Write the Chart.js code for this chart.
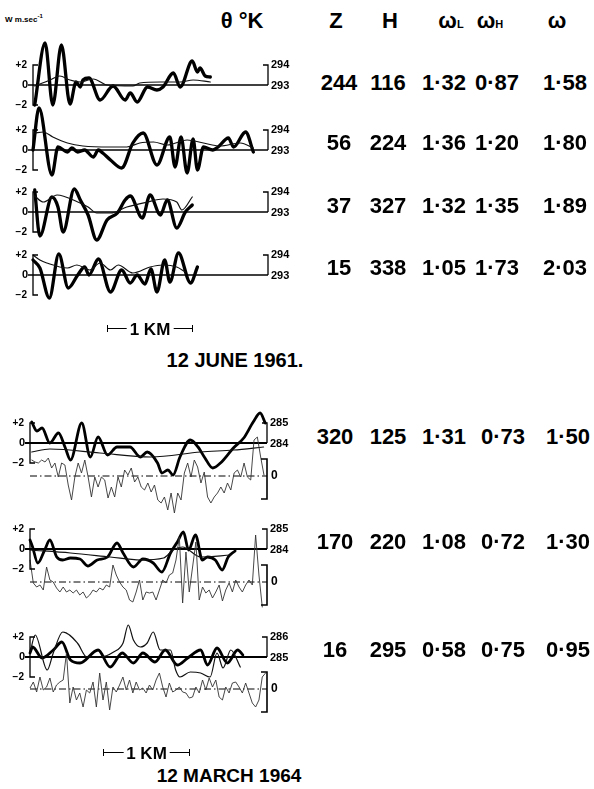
<!DOCTYPE html>
<html>
<head>
<meta charset="utf-8">
<script src="https://cdn.jsdelivr.net/npm/chart.js@4.4.1/dist/chart.umd.min.js"></script>
<style>
  body { margin: 0; background: #fff; width: 594px; height: 789px; position: relative; overflow: hidden;
         font-family: "Liberation Sans", Arial, sans-serif; color: #000; }
  canvas { position: absolute; left: 0; }
  .t { position: absolute; transform: translate(-50%, -50%); white-space: nowrap; font-weight: bold;
       font-size: 22px; line-height: 1; }
  .t small { font-size: 11px; }
  .unit { position: absolute; left: 5px; top: 13px; font-size: 8px; font-weight: bold; white-space: nowrap; }
  .bar { position: absolute; height: 0; border-top: 1px solid #000; }
  .bar::before, .bar::after { content: ""; position: absolute; top: -4px; height: 7px; border-left: 1px solid #000; }
  .bar::before { left: 0; }
  .bar::after { right: 0; }
  .bar span { position: absolute; left: 50%; top: 0; transform: translate(-50%, -50%); background: #fff;
              padding: 0 3px; font-weight: bold; font-size: 17px; line-height: 1; white-space: nowrap; }
</style>
</head>
<body>
<script>
// ---- 12 June 1961: vertical velocity w (m/s) and potential temperature (K) against distance (km)
const w244 = [[0.02,-2.0],[0.14,4.2],[0.23,-2.0],[0.33,4.0],[0.43,-1.9],[0.50,0.3],[0.55,-0.2],[0.58,0.5],[0.65,0.7],[0.78,-1.5],[0.93,-0.1],[1.07,-1.5],[1.13,-0.8],[1.21,-1.7],[1.33,-0.2],[1.44,-0.5],[1.51,-0.2],[1.63,1.2],[1.71,-0.2],[1.85,2.4],[1.91,1.3],[1.94,1.7],[2.00,0.9],[2.06,0.8]];
const theta244 = [[0.02,292.95],[0.20,293.25],[0.31,293.45],[0.43,293.25],[0.55,293.15],[0.70,293.3],[0.86,293.0],[1.16,292.95],[1.24,293.1],[1.48,293.15],[1.71,293.15],[1.86,293.25],[2.06,293.15]];

const w56 = [[0.0,0.0],[0.07,4.2],[0.22,-2.5],[0.29,0.3],[0.40,-0.2],[0.45,0.2],[0.52,-0.2],[0.60,0.0],[0.70,-0.7],[0.76,0.0],[0.81,-0.3],[0.90,-1.0],[1.03,-1.8],[1.16,0.7],[1.28,1.7],[1.44,-1.5],[1.59,1.3],[1.65,-1.7],[1.72,1.3],[1.79,-2.3],[1.86,1.1],[1.91,-2.0],[1.98,0.3],[2.09,0.0],[2.15,0.3],[2.27,1.2],[2.33,0.3],[2.47,1.8],[2.56,-0.2]];
const theta56 = [[0.02,293.85],[0.12,293.9],[0.23,293.65],[0.40,293.35],[0.58,293.2],[0.90,293.15],[1.09,293.15],[1.24,293.35],[1.40,293.4],[1.56,293.25],[1.79,293.5],[1.98,293.35],[2.17,293.2],[2.41,293.35],[2.56,293.1]];

const w37 = [[0.02,2.2],[0.08,-2.4],[0.22,1.5],[0.29,0.5],[0.35,-2.0],[0.48,2.3],[0.55,1.2],[0.64,-0.3],[0.74,-2.8],[0.86,-0.8],[0.98,-0.1],[1.07,1.2],[1.13,1.6],[1.27,-0.6],[1.36,1.7],[1.48,-0.3],[1.56,1.2],[1.67,-1.6],[1.77,0.0],[1.85,0.7]];
const theta37 = [[0.02,293.8],[0.12,293.5],[0.28,293.85],[0.52,293.5],[0.64,293.25],[0.74,292.95],[0.90,292.95],[1.09,293.25],[1.33,293.5],[1.51,293.65],[1.67,293.5],[1.73,293.1],[1.85,293.75]];

const w15 = [[0.00,1.5],[0.08,0.7],[0.19,-2.3],[0.30,2.1],[0.41,-1.3],[0.52,0.0],[0.60,0.8],[0.65,0.0],[0.76,1.6],[0.90,-1.7],[1.03,0.5],[1.13,-0.8],[1.21,0.0],[1.30,-0.9],[1.37,0.6],[1.44,-1.7],[1.53,1.5],[1.59,-0.7],[1.69,2.2],[1.83,-0.8],[1.91,0.8]];
const theta15 = [[0.00,294.0],[0.08,293.75],[0.16,293.6],[0.40,293.35],[0.51,293.5],[0.66,293.25],[0.78,293.6],[0.90,293.25],[0.99,293.5],[1.16,293.1],[1.36,293.4],[1.51,293.5],[1.67,293.4],[1.77,293.15]];

// ---- 12 March 1964: w, theta and the fine-scale trace (sampled every FINE_STEP km)
const FINE_STEP = 0.0385;

const w320 = [[0.02,2.1],[0.08,1.2],[0.14,1.5],[0.23,0.0],[0.33,1.0],[0.41,-0.5],[0.47,-1.7],[0.60,2.0],[0.70,-1.4],[0.79,0.6],[0.90,-1.2],[1.01,-0.4],[1.16,-0.4],[1.28,-1.4],[1.36,-0.9],[1.48,-2.0],[1.53,-3.0],[1.60,-2.7],[1.66,-3.2],[1.74,-1.4],[1.86,0.3],[1.95,-0.4],[2.03,-1.5],[2.12,-2.5],[2.21,-2.0],[2.36,-0.5],[2.48,0.5],[2.59,2.1],[2.67,3.0],[2.73,2.0]];
const theta320 = [[0.02,283.55],[0.23,283.7],[0.81,283.5],[1.40,283.3],[1.98,283.55],[2.36,283.65],[2.71,283.8]];
const q320 = [1.6,1.4,1.3,1.6,1.4,1.8,0.8,1.3,-0.1,1.3,
  1.1,-0.9,-2.4,-0.1,1.3,0.3,1.6,-0.1,-2.1,-0.1,
  -1.1,-0.1,-0.4,-2.2,-1.1,-2.1,-0.1,-1.1,0.6,0.1,
  0.8,-0.6,-0.1,-1.1,-1.4,-0.7,-1.6,-0.9,-2.4,-2.7,
  -2.1,-3.4,-1.7,-3.7,-1.7,-2.4,0.3,1.3,-0.1,1.6,
  0.9,-0.7,0.4,-2.1,-2.7,-2.1,-1.7,-1.1,-1.7,-0.7,
  -1.4,0.3,0.6,-0.1,1.3,-0.1,-0.4,3.6,3.9,1.9,0.1];

const w170 = [[0.0,0.9],[0.03,0.2],[0.09,-1.4],[0.17,-0.1],[0.23,0.9],[0.31,-0.8],[0.38,-1.1],[0.47,-0.9],[0.58,-1.0],[0.67,-1.7],[0.78,-1.1],[0.90,-0.8],[1.01,0.6],[1.08,-0.4],[1.20,-1.8],[1.31,-1.0],[1.43,-1.4],[1.53,-2.3],[1.63,-0.4],[1.71,0.7],[1.78,1.7],[1.84,-0.1],[1.92,1.4],[2.00,-1.1],[2.06,-0.8],[2.15,-1.1],[2.23,-2.1],[2.30,-0.8],[2.38,-0.2]];
const theta170 = [[0.0,283.95],[0.47,283.8],[0.93,283.6],[1.28,283.45],[1.55,283.55],[1.66,283.95],[1.77,284.1],[1.98,283.6],[2.33,283.7]];
const q170 = [2.2,-0.1,-0.5,-0.3,-0.8,1.5,0.2,0.0,-0.6,-1.0,
  -0.5,-1.0,-0.8,-1.1,-0.8,-1.3,-1.0,-1.6,-1.3,-0.8,
  -1.0,-0.6,-0.8,-0.3,-0.5,1.7,0.7,0.0,-0.5,-0.8,
  -1.8,-2.0,-1.0,0.2,-1.8,-1.0,-1.1,-1.0,-1.8,-0.8,
  0.2,-0.1,0.7,0.9,2.2,4.5,-2.1,3.0,-1.0,1.5,
  4.0,-1.8,-0.5,-1.1,-0.8,-1.6,-1.0,-0.3,-1.9,-0.8,
  -0.1,-1.0,0.2,-0.5,-1.0,-0.3,0.2,-0.3,4.7,0.7,-2.5];

const w16 = [[0.0,0.4],[0.03,1.0],[0.14,-0.1],[0.27,0.7],[0.37,1.5],[0.47,-0.3],[0.58,-0.6],[0.79,0.7],[0.93,-1.0],[1.07,0.4],[1.20,-0.6],[1.31,0.4],[1.45,-0.5],[1.57,0.7],[1.71,-0.8],[1.83,-0.1],[1.98,0.7],[2.06,-0.8],[2.17,0.9],[2.29,-0.6],[2.41,0.7],[2.47,0.2]];
const theta16 = [[0.0,285.2],[0.06,286.1],[0.20,284.35],[0.27,285.2],[0.38,286.25],[0.55,285.7],[0.66,285.0],[0.81,285.0],[0.97,285.25],[1.08,285.7],[1.14,286.6],[1.20,285.85],[1.28,285.5],[1.36,285.7],[1.43,286.25],[1.51,285.35],[1.63,285.35],[1.69,284.35],[1.74,284.0],[1.86,284.25],[1.98,284.2],[2.09,284.0],[2.17,285.2],[2.24,284.45],[2.33,285.35],[2.44,284.5]];
const q16 = [0.1,0.7,-0.3,1.2,-0.1,0.2,1.1,-0.3,0.4,0.7,
  0.9,3.6,-1.4,0.2,-1.1,-0.4,-1.8,-0.1,-0.4,0.7,
  -1.8,1.6,-1.1,0.7,-2.1,0.2,-0.3,0.4,1.2,-0.1,
  0.9,-0.4,0.7,-0.1,0.1,-0.4,0.4,-0.1,0.9,1.6,
  0.2,-0.8,0.6,-0.3,-0.1,0.2,-0.3,-0.4,-0.9,-0.8,
  0.2,-0.4,0.9,-0.1,1.1,0.2,0.9,-0.8,-1.1,0.2,
  -0.4,0.6,0.7,0.2,-0.4,0.6,-0.4,-1.4,-1.8,-1.1,1.2,1.6];

// ---- table values
const juneZ = [244, 56, 37, 15];
const juneH = [116, 224, 327, 338];
const juneWL = [1.32, 1.36, 1.32, 1.05];
const juneWH = [0.87, 1.20, 1.35, 1.73];
const juneW = [1.58, 1.80, 1.89, 2.03];
const marchZ = [320, 170, 16];
const marchH = [125, 220, 295];
const marchWL = [1.31, 1.08, 0.58];
const marchWH = [0.73, 0.72, 0.75];
const marchW = [1.50, 1.30, 0.95];

// ---- layout
const PX_PER_UNIT = 10;
const june = { left: 33, right: 32, wMin: -4, wMax: 5, xMax: 2.73, bold: 3.3, zeroW: 1.4 };
const march = { left: 30, right: 33, wMin: -8, wMax: 5, xMax: 2.75, bold: 2.8, zeroW: 1.8 };

const panels = [
  { g: june, zero: 85, theta0: 293, w: w244, theta: theta244 },
  { g: june, zero: 150, theta0: 293, w: w56, theta: theta56 },
  { g: june, zero: 212, theta0: 293, w: w37, theta: theta37 },
  { g: june, zero: 275, theta0: 293, w: w15, theta: theta15 },
  { g: march, zero: 443, theta0: 284, w: w320, theta: theta320, fine: q320, fineStart: 0.02, base: 3.3 },
  { g: march, zero: 549, theta0: 284, w: w170, theta: theta170, fine: q170, fineStart: 0, base: 3.3 },
  { g: march, zero: 657, theta0: 285, w: w16, theta: theta16, fine: q16, fineStart: 0, base: 3.2 },
];

function makeFrame(p) {
  return {
    id: 'frame',
    beforeDatasetsDraw(chart) {
      const { ctx, chartArea: a, scales } = chart;
      const y0 = scales.w.getPixelForValue(0);
      ctx.save();
      ctx.strokeStyle = '#000';
      ctx.lineWidth = p.g.zeroW;
      ctx.beginPath();
      ctx.moveTo(a.left - 5, y0);
      ctx.lineTo(a.right, y0);
      ctx.stroke();
      if (p.fine) {
        const yb = scales.f.getPixelForValue(0);
        ctx.lineWidth = 1;
        ctx.setLineDash([7, 3, 1.5, 3]);
        ctx.beginPath();
        ctx.moveTo(a.left, yb);
        ctx.lineTo(a.right, yb);
        ctx.stroke();
        ctx.setLineDash([]);
      }
      ctx.restore();
    },
    afterDraw(chart) {
      const { ctx, chartArea: a, scales } = chart;
      const w = scales.w, t = scales.t;
      ctx.save();
      ctx.strokeStyle = '#000';
      ctx.fillStyle = '#000';
      ctx.lineWidth = 1.3;
      // left bracket, -2 .. +2
      const yp = w.getPixelForValue(2), ym = w.getPixelForValue(-2), y0 = w.getPixelForValue(0);
      ctx.beginPath();
      ctx.moveTo(a.left + 5, yp); ctx.lineTo(a.left, yp); ctx.lineTo(a.left, ym); ctx.lineTo(a.left + 5, ym);
      ctx.stroke();
      // right bracket, theta0 .. theta0+1
      const yt1 = t.getPixelForValue(p.theta0 + 1), yt0 = t.getPixelForValue(p.theta0);
      ctx.beginPath();
      ctx.moveTo(a.right - 5, yt1); ctx.lineTo(a.right, yt1); ctx.lineTo(a.right, yt0);
      ctx.stroke();
      ctx.font = 'bold 10px "Liberation Sans", Arial, sans-serif';
      ctx.textBaseline = 'middle';
      ctx.textAlign = 'right';
      ctx.fillText('+2', a.left - 6, yp);
      ctx.fillText('\u22122', a.left - 6, ym);
      ctx.font = 'bold 11px "Liberation Sans", Arial, sans-serif';
      ctx.fillText('0', a.left - 5, y0);
      ctx.textAlign = 'left';
      ctx.fillText(String(p.theta0 + 1), a.right + 3, yt1);
      ctx.fillText(String(p.theta0), a.right + 3, yt0 + 1);
      if (p.fine) {
        const f = scales.f;
        const yb = f.getPixelForValue(0), yu = f.getPixelForValue(1.7), yd = f.getPixelForValue(-2.3);
        ctx.lineWidth = 1.6;
        ctx.beginPath();
        ctx.moveTo(a.right - 6, yu); ctx.lineTo(a.right, yu); ctx.lineTo(a.right, yd); ctx.lineTo(a.right - 6, yd);
        ctx.stroke();
        ctx.font = 'bold 12px "Liberation Sans", Arial, sans-serif';
        ctx.fillText('0', a.right + 4, yb);
      }
      ctx.restore();
    }
  };
}

panels.forEach(p => {
  const g = p.g;
  const cv = document.createElement('canvas');
  cv.width = 300;
  cv.height = (g.wMax - g.wMin) * PX_PER_UNIT;
  cv.style.top = (p.zero - g.wMax * PX_PER_UNIT) + 'px';
  document.body.appendChild(cv);

  const datasets = [
    {
      data: p.theta.map(([x, y]) => ({ x, y })), yAxisID: 't',
      borderColor: '#111', borderWidth: 1.2, cubicInterpolationMode: 'monotone'
    },
    {
      data: p.w.map(([x, y]) => ({ x, y })), yAxisID: 'w',
      borderColor: '#000', borderWidth: g.bold, cubicInterpolationMode: 'monotone'
    }
  ];
  if (p.fine) {
    datasets.unshift({
      data: p.fine.map((v, i) => ({ x: p.fineStart + i * FINE_STEP, y: v })), yAxisID: 'f',
      borderColor: '#333', borderWidth: 0.9, tension: 0
    });
  }
  datasets.forEach(d => { d.pointRadius = 0; d.fill = false; d.clip = false; d.borderJoinStyle = 'round'; d.borderCapStyle = 'round'; });

  const scales = {
    x: { type: 'linear', min: 0, max: g.xMax, display: false },
    w: { type: 'linear', min: g.wMin, max: g.wMax, display: false },
    t: { type: 'linear', min: p.theta0 + g.wMin / 2, max: p.theta0 + g.wMax / 2, display: false }
  };
  if (p.fine) scales.f = { type: 'linear', min: g.wMin + p.base, max: g.wMax + p.base, display: false };

  new Chart(cv, {
    type: 'line',
    data: { datasets },
    options: {
      responsive: false, animation: false, events: [],
      layout: { padding: { left: g.left, right: g.right, top: 0, bottom: 0 } },
      plugins: { legend: { display: false }, tooltip: { enabled: false } },
      scales
    },
    plugins: [makeFrame(p)]
  });
});

// ---- text
function put(html, x, y, style) {
  const d = document.createElement('div');
  d.className = 't';
  d.innerHTML = html;
  d.style.left = x + 'px';
  d.style.top = y + 'px';
  if (style) d.style.cssText += style;
  document.body.appendChild(d);
}
const fmt = v => v.toFixed(2).replace('.', '\u00b7');

const unit = document.createElement('div');
unit.className = 'unit';
unit.innerHTML = 'W m.sec<sup style="font-size:6px">-1</sup>';
document.body.appendChild(unit);

put('\u03b8 \u00b0K', 242, 21);
put('Z', 336, 21);
put('H', 390, 21);
put('\u03c9<small>L</small>', 451, 21);
put('\u03c9<small>H</small>', 490, 21);
put('\u03c9', 557, 21);

const juneRows = [83, 143, 206, 268];
juneRows.forEach((y, i) => {
  put(juneZ[i], 339, y);
  put(juneH[i], 388, y);
  put(fmt(juneWL[i]), 444, y);
  put(fmt(juneWH[i]), 497, y);
  put(fmt(juneW[i]), 565, y);
});
const marchRows = [437, 542, 650];
marchRows.forEach((y, i) => {
  put(marchZ[i], 335, y);
  put(marchH[i], 388, y);
  put(fmt(marchWL[i]), 444, y);
  put(fmt(marchWH[i]), 503, y);
  put(fmt(marchW[i]), 568, y);
});

put('12 JUNE 1961.', 235, 360, 'font-size:20px');
put('12 MARCH 1964', 229, 775, 'font-size:19px');

function scaleBar(x, y, width) {
  const b = document.createElement('div');
  b.className = 'bar';
  b.style.left = x + 'px';
  b.style.top = y + 'px';
  b.style.width = width + 'px';
  b.innerHTML = '<span>1 KM</span>';
  document.body.appendChild(b);
}
scaleBar(107, 328, 86);
scaleBar(103, 752, 87);
</script>
</body>
</html>
